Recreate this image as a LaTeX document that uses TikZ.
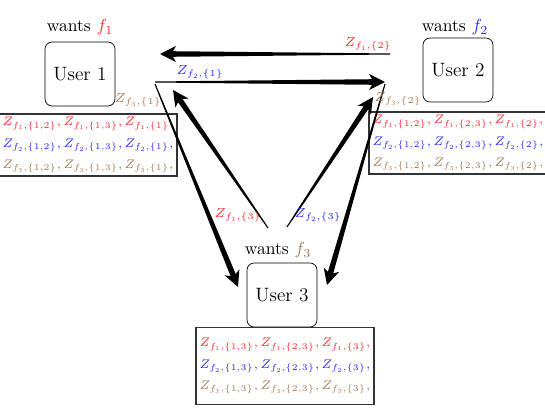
\RequirePackage{fix-cm}
\documentclass[tikz,border=0pt]{standalone}
\usepackage{tikz}
\usetikzlibrary{arrows.meta,calc}
\definecolor{fone}{RGB}{255,40,40}
\definecolor{ftwo}{RGB}{40,40,255}
\definecolor{fthree}{RGB}{165,120,80}
\tikzset{user style/.style={
		draw=black,
		rounded corners=4pt,
		minimum width=1.4cm,
		minimum height=1.28cm,
		inner sep=2pt,
		font=\fontsize{11}{13}\selectfont,
	},
	store style/.style={
		draw=black!80,
		thick,
		align=left,
		inner sep=2pt,
		minimum width=3.4cm,
		font=\fontsize{7.1}{12}\selectfont,
	},
	label style/.style={
		#1,
		font=\fontsize{7.5}{10}\selectfont,
		inner sep=1pt,
	},
	head style/.style={
		-{Stealth[length=9pt,width=9pt,inset=2.5pt]},
		line width=0.8pt,
	}
}
% tapered arrow between two named coordinates
\newcommand{\flow}[2]{%
	\coordinate (FlowEnd) at ($(#2)!6pt!(#1)$);
	\fill ($(#1)!0.3pt!90:(#2)$) -- ($(#1)!0.3pt!-90:(#2)$)
		-- ($(FlowEnd)!1.6pt!90:(#1)$) -- ($(FlowEnd)!1.6pt!-90:(#1)$) -- cycle;
	\draw[head style] (FlowEnd) -- (#2);
}

\begin{document}
\begin{tikzpicture}[x=0.02cm,y=-0.02cm]
	\useasboundingbox (0,0) rectangle (545,409);
	
	% users
	\node[user style] (User1) at (80,74) {User 1};
	\node (Wants1) at (80,27) {wants \textcolor{fone}{$f_1$}};
	
	\node[user style] (User2) at (458,70) {User 2};
	\node (Wants2) at (455,27) {wants \textcolor{ftwo}{$f_2$}};
	
	\node[user style] (User3) at (282,295) {User 3};
	\node (Wants3) at (278,250) {wants \textcolor{fthree}{$f_3$}};
	
	% stored parts
	\node[store style] (Store1) at (88,145) {%
		\textcolor{fone}{$Z_{f_1,\{1,2\}},Z_{f_1,\{1,3\}},Z_{f_1,\{1\}},$}\\
		\textcolor{ftwo}{$Z_{f_2,\{1,2\}},Z_{f_2,\{1,3\}},Z_{f_2,\{1\}},$}\\
		\textcolor{fthree}{$Z_{f_3,\{1,2\}},Z_{f_3,\{1,3\}},Z_{f_3,\{1\}},$}};
	
	\node[store style] (Store2) at (458,143) {%
		\textcolor{fone}{$Z_{f_1,\{1,2\}},Z_{f_1,\{2,3\}},Z_{f_1,\{2\}},$}\\
		\textcolor{ftwo}{$Z_{f_2,\{1,2\}},Z_{f_2,\{2,3\}},Z_{f_2,\{2\}},$}\\
		\textcolor{fthree}{$Z_{f_3,\{1,2\}},Z_{f_3,\{2,3\}},Z_{f_3,\{2\}},$}};
	
	\node[store style, minimum height=1.54cm] (Store3) at (285,366) {%
		\textcolor{fone}{$Z_{f_1,\{1,3\}},Z_{f_1,\{2,3\}},Z_{f_1,\{3\}},$}\\
		\textcolor{ftwo}{$Z_{f_2,\{1,3\}},Z_{f_2,\{2,3\}},Z_{f_2,\{3\}},$}\\
		\textcolor{fthree}{$Z_{f_3,\{1,3\}},Z_{f_3,\{2,3\}},Z_{f_3,\{3\}},$}};
	
	% arrow ends
	\coordinate (TopFrom) at (390,54);
	\coordinate (TopTo) at (160,54);
	\coordinate (MidFrom) at (155,82);
	\coordinate (MidTo) at (385,82);
	\coordinate (LeftFrom) at (155,84);
	\coordinate (LeftTo) at (238,287);
	\coordinate (UpLeftFrom) at (268,228);
	\coordinate (UpLeftTo) at (173,90);
	\coordinate (UpRightFrom) at (287,227);
	\coordinate (UpRightTo) at (373,97);
	\coordinate (RightFrom) at (385,84);
	\coordinate (RightTo) at (327,285);
	
	\flow{TopFrom}{TopTo}
	\flow{MidFrom}{MidTo}
	\flow{LeftFrom}{LeftTo}
	\flow{UpLeftFrom}{UpLeftTo}
	\flow{UpRightFrom}{UpRightTo}
	\flow{RightFrom}{RightTo}
	
	% transmitted parts
	\node[label style=fone] (SendTwo) at (368,44) {$Z_{f_1,\{2\}}$};
	\node[label style=ftwo] (SendOne) at (200,72) {$Z_{f_2,\{1\}}$};
	\node[label style=fone] (SendThreeA) at (238,215) {$Z_{f_1,\{3\}}$};
	\node[label style=ftwo] (SendThreeB) at (318,215) {$Z_{f_2,\{3\}}$};
	\node[label style=fthree] (KeepOne) at (138,100) {$Z_{f_3,\{1\}}$};
	\node[label style=fthree] (KeepTwo) at (398,99) {$Z_{f_3,\{2\}}$};
\end{tikzpicture}
\end{document}
